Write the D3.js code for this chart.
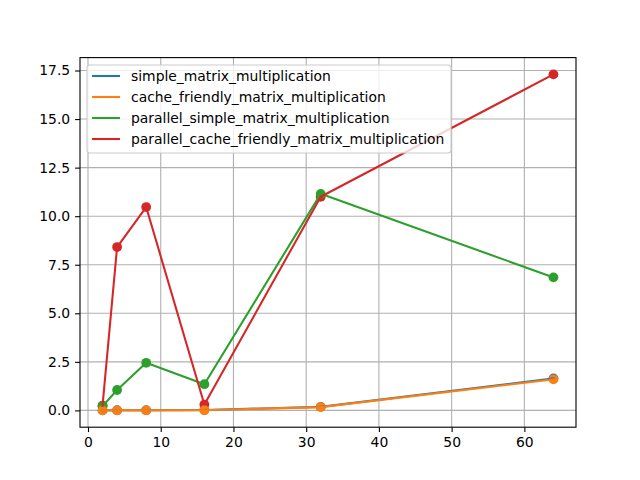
<!DOCTYPE html>
<html>
<head>
<meta charset="utf-8">
<script src="https://cdn.jsdelivr.net/npm/d3@7"></script>
<style>
body { margin: 0; background: white; }
text { font-family: "DejaVu Sans", sans-serif; }
</style>
</head>
<body>
<script>
var sizes = [2, 4, 8, 16, 32, 64];
var seriesNames = ['simple_matrix_multiplication', 'cache_friendly_matrix_multiplication',
    'parallel_simple_matrix_multiplication', 'parallel_cache_friendly_matrix_multiplication'];
var simpleVals = [0.0, 0.01, 0.01, 0.02, 0.18, 1.65];
var cacheVals = [0.0, 0.0, 0.0, 0.01, 0.17, 1.6];
var parSimpleVals = [0.22, 1.05, 2.45, 1.35, 11.15, 6.85];
var parCacheVals = [0.25, 8.41, 10.47, 0.3, 11.0, 17.3];
var colors = ['#1f77b4', '#ff7f0e', '#2ca02c', '#d62728'];
var xTicks = [0, 10, 20, 30, 40, 50, 60];
var yTicks = [0, 2.5, 5, 7.5, 10, 12.5, 15, 17.5];

var allVals = [simpleVals, cacheVals, parSimpleVals, parCacheVals];

var svg = d3.select('body').append('svg')
    .attr('width', 640)
    .attr('height', 480);

var axLeft = 80, axRight = 576, axTop = 57.6, axBottom = 427.2;

var x = d3.scaleLinear().domain([2 - 3.1, 64 + 3.1]).range([axLeft, axRight]);
var yMax = 17.3, yMin = 0;
var pad = (yMax - yMin) * 0.05;
var y = d3.scaleLinear().domain([yMin - pad, yMax + pad]).range([axBottom, axTop]);

// grid
svg.append('g').selectAll('line').data(xTicks).enter().append('line')
    .attr('x1', d => x(d)).attr('x2', d => x(d))
    .attr('y1', axTop).attr('y2', axBottom)
    .attr('stroke', '#b0b0b0').attr('stroke-width', 1.1);
svg.append('g').selectAll('line').data(yTicks).enter().append('line')
    .attr('y1', d => y(d)).attr('y2', d => y(d))
    .attr('x1', axLeft).attr('x2', axRight)
    .attr('stroke', '#b0b0b0').attr('stroke-width', 1.1);

// markers (scatter) under the lines
var dotOrder = [0, 3, 2, 1];
dotOrder.forEach(function(i) {
    svg.append('g').selectAll('circle').data(allVals[i]).enter().append('circle')
        .attr('cx', (d, j) => x(sizes[j]))
        .attr('cy', d => y(d))
        .attr('r', 4.9)
        .attr('fill', colors[i]);
});

var line = d3.line()
    .x((d, j) => x(sizes[j]))
    .y(d => y(d));

allVals.forEach(function(vals, i) {
    svg.append('path')
        .attr('d', line(vals))
        .attr('fill', 'none')
        .attr('stroke', colors[i])
        .attr('stroke-width', 2.08)
        .attr('stroke-linejoin', 'round')
        .attr('stroke-linecap', 'square');
});

// axes
var xAxis = svg.append('g')
    .attr('transform', 'translate(0,' + axBottom + ')')
    .call(d3.axisBottom(x).tickValues(xTicks).tickSize(4.9).tickPadding(4.9).tickFormat(d3.format('d')));
var yAxis = svg.append('g')
    .attr('transform', 'translate(' + axLeft + ',0)')
    .call(d3.axisLeft(y).tickValues(yTicks).tickSize(4.9).tickPadding(4.9).tickFormat(d3.format('.1f')));
[xAxis, yAxis].forEach(function(a) {
    a.select('.domain').remove();
    a.selectAll('text').attr('font-size', 13.9).attr('font-family', 'DejaVu Sans').attr('fill', 'black');
    a.selectAll('.tick line').attr('stroke', 'black').attr('stroke-width', 1.1);
});

svg.append('rect')
    .attr('x', axLeft).attr('y', axTop)
    .attr('width', axRight - axLeft).attr('height', axBottom - axTop)
    .attr('fill', 'none').attr('stroke', 'black').attr('stroke-width', 1.1);

// legend
var legend = svg.append('g').attr('transform', 'translate(87,65)');
legend.append('rect')
    .attr('x', 0).attr('y', 0)
    .attr('width', 364).attr('height', 88)
    .attr('rx', 3)
    .attr('fill', 'white').attr('fill-opacity', 0.8)
    .attr('stroke', '#cccccc').attr('stroke-width', 1.1);
seriesNames.forEach(function(name, i) {
    var yy = 11 + i * 21;
    legend.append('line')
        .attr('x1', 5).attr('x2', 33)
        .attr('y1', yy).attr('y2', yy)
        .attr('stroke', colors[i]).attr('stroke-width', 2.08);
    legend.append('text')
        .attr('x', 44).attr('y', yy)
        .attr('dy', '0.35em')
        .attr('font-size', 13.9)
        .text(name);
});
</script>
</body>
</html>
